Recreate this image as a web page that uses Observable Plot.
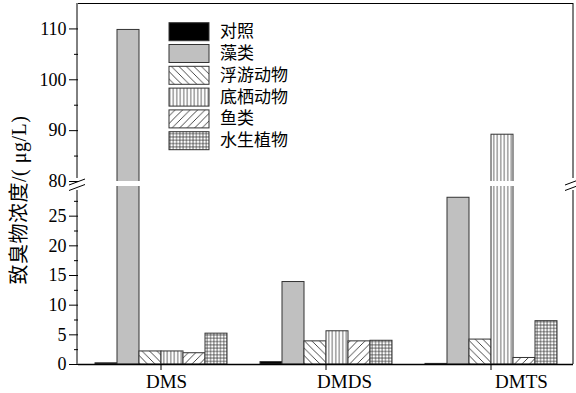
<!DOCTYPE html>
<html><head><meta charset="utf-8">
<script src="https://cdn.jsdelivr.net/npm/d3@7"></script>
<script src="https://cdn.jsdelivr.net/npm/@observablehq/plot@0.6"></script>
<style>
body{margin:0;background:#fff;}
#chart{position:relative;width:576px;height:393px;}
</style></head><body><div id="chart"></div>
<script>
// ---- data ----
const groups = ["DMS", "DMDS", "DMTS"];
const series = ["对照", "藻类", "浮游动物", "底栖动物", "鱼类", "水生植物"];
const dmsValues  = [0.2, 109.8, 2.2, 2.2, 1.9, 5.2];
const dmdsValues = [0.4, 13.9, 3.9, 5.6, 3.9, 4.0];
const dmtsValues = [0.1, 28.1, 4.2, 89.2, 1.1, 7.3];
const yTicks = [0, 5, 10, 15, 20, 25, 80, 90, 100, 110];
const yMinorTicks = [2.5, 7.5, 12.5, 17.5, 22.5, 27.5, 85, 95, 105];
const yLabel = "致臭物浓度/( μg/L)";
const breakLow = 30, breakHigh = 80, yMax = 115;

// ---- layout / style ----
const W = 576, H = 393, mL = 77, mR = 3, mT = 3, mB = 29;
const fills = ["#000", "#c0c0c0", "url(#p-back)", "url(#p-vert)", "url(#p-fwd)", "url(#p-grid)"];
const labelShift = [6, 19, 31];
const serif = "'Liberation Serif','Times New Roman',serif";
const cjk = "'Liberation Serif','Noto Sans CJK SC',sans-serif";

const valuesByGroup = [dmsValues, dmdsValues, dmtsValues];
const data = groups.flatMap((g, i) => series.map((s, j) => ({group: g, series: s, value: valuesByGroup[i][j]})));

const plot = Plot.plot({
  width: W, height: H,
  marginLeft: mL, marginRight: mR, marginTop: mT, marginBottom: mB,
  style: {fontFamily: serif, fontSize: "18px", color: "#000", background: "#fff", overflow: "visible"},
  fx: {domain: groups, paddingInner: 0, paddingOuter: 0, label: null},
  x: {domain: series, paddingInner: 0, paddingOuter: 0.75, axis: null, label: null},
  y: {type: "linear", domain: [0, breakLow, breakHigh, yMax], range: [H - mB, 186, 181, mT], label: null},
  color: {domain: series, range: fills},
  marks: [
    Plot.barY(data, {fx: "group", x: "series", y: "value", fill: "series", stroke: "#333", strokeWidth: 1}),
    Plot.rect([0], {y1: () => breakLow, y2: () => breakHigh, fill: "#fff", insetLeft: -2, insetRight: -2}),
    Plot.ruleY([0], {stroke: "#000", strokeWidth: 1.5}),
    Plot.ruleY([yMax], {stroke: "#000", strokeWidth: 1}),
    Plot.axisY(yTicks, {tickSize: 9, tickPadding: 3, label: null, stroke: "#000"}),
    Plot.axisY(yMinorTicks, {tickSize: 4, tickFormat: () => "", label: null, stroke: "#000"}),
    Plot.axisFx({anchor: "bottom", tickSize: 6, tickFormat: () => "", label: null, stroke: "#000"})
  ]
});
document.getElementById("chart").appendChild(plot);

// ---- patterns ----
const svg = d3.select(plot);
const defs = svg.insert("defs", ":first-child");
function pat(id, w, h, d, sw) {
  const p = defs.append("pattern").attr("id", id).attr("patternUnits", "userSpaceOnUse")
    .attr("width", w).attr("height", h);
  p.append("rect").attr("width", w).attr("height", h).attr("fill", "#fff");
  p.append("path").attr("d", d).attr("stroke", "#333").attr("stroke-width", sw).attr("fill", "none");
}
pat("p-back", 7.5, 7.5, "M0,0L7.5,7.5M-1,6.5L1,8.5M6.5,-1L8.5,1", 0.9);
pat("p-fwd", 7.5, 7.5, "M0,7.5L7.5,0M-1,1L1,-1M6.5,8.5L8.5,6.5", 0.9);
pat("p-vert", 3.5, 10, "M1.75,0V10", 0.8);
pat("p-grid", 3.3, 3.3, "M0,1.65H3.3M1.65,0V3.3", 0.7);

// ---- frame with axis breaks ----
const y = plot.scale("y");
const fx = plot.scale("fx");
const x0 = mL, x1 = W - mR;
const yTop = y.apply(yMax), yBot = y.apply(0), yB1 = y.apply(breakHigh), yB2 = y.apply(breakLow);
const g = svg.append("g").attr("stroke", "#000").attr("fill", "none");
for (const xx of [x0, x1]) {
  g.append("line").attr("x1", xx).attr("x2", xx).attr("y1", yTop).attr("y2", yB1 - 3);
  g.append("line").attr("x1", xx).attr("x2", xx).attr("y1", yB2 + 4).attr("y2", yBot);
  g.append("line").attr("x1", xx - 8).attr("x2", xx + 8).attr("y1", yB1 + 4).attr("y2", yB1 - 2);
  g.append("line").attr("x1", xx - 8).attr("x2", xx + 8).attr("y1", yB2 + 4.5).attr("y2", yB2 - 1.5);
}

// ---- x labels ----
groups.forEach((grp, i) => {
  svg.append("text")
    .attr("x", fx.apply(grp) + fx.bandwidth / 2 + labelShift[i])
    .attr("y", yBot + 24)
    .attr("text-anchor", "middle")
    .attr("font-family", serif).attr("font-size", 19).attr("fill", "#000")
    .text(grp);
});

// ---- y label ----
svg.append("text")
  .attr("transform", `translate(19,200) rotate(-90)`)
  .attr("text-anchor", "middle").attr("dominant-baseline", "central")
  .attr("font-family", cjk).attr("font-size", 20).attr("letter-spacing", 0.5).attr("fill", "#000")
  .text(yLabel);

// ---- legend ----
const lg = svg.append("g").attr("text-anchor", "start");
series.forEach((s, i) => {
  const yy = 22.7 + i * 21.8;
  lg.append("rect").attr("x", 169).attr("y", yy).attr("width", 40).attr("height", 18)
    .attr("fill", fills[i]).attr("stroke", "#333").attr("stroke-width", 1);
  lg.append("text").attr("x", 220).attr("y", yy + 9).attr("dominant-baseline", "central")
    .attr("text-anchor", "start")
    .attr("font-family", cjk).attr("font-size", 17).attr("fill", "#000").text(s);
});
</script></body></html>
